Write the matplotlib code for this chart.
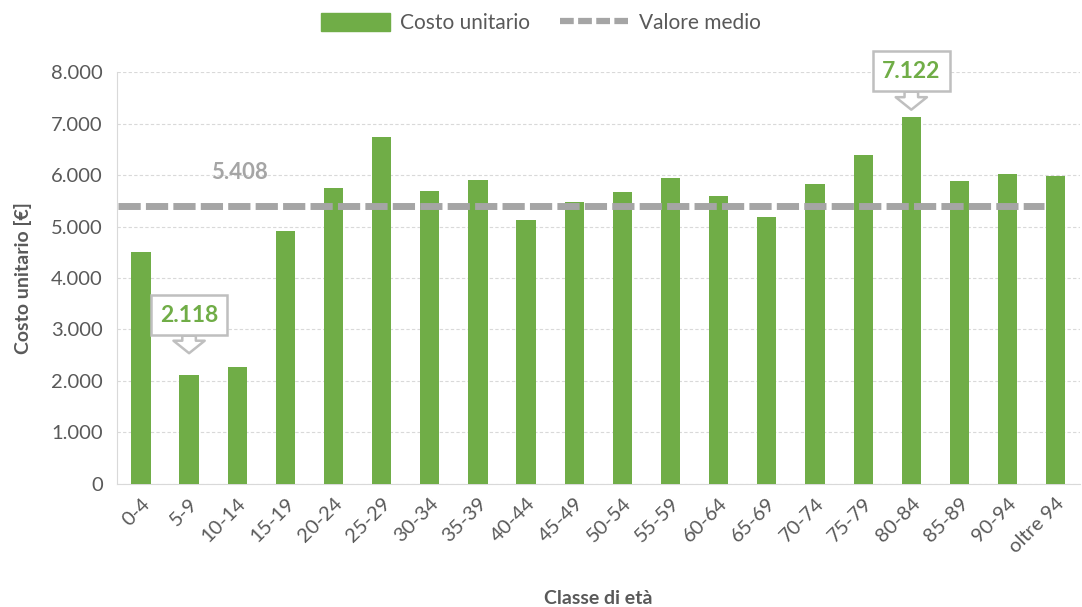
import numpy as np
import matplotlib.pyplot as plt
from matplotlib.ticker import FuncFormatter
from matplotlib.lines import Line2D
from matplotlib.patches import Patch

# data
classes = ["0-4", "5-9", "10-14", "15-19", "20-24", "25-29", "30-34", "35-39",
           "40-44", "45-49", "50-54", "55-59", "60-64", "65-69", "70-74",
           "75-79", "80-84", "85-89", "90-94", "oltre 94"]
costo = [4505, 2118, 2270, 4910, 5740, 6750, 5700, 5900, 5130, 5480,
         5670, 5940, 5590, 5180, 5830, 6400, 7122, 5880, 6020, 5980]
media = 5408

GREEN = "#70AD47"
GREY = "#A5A5A5"
TXT = "#595959"

plt.rcParams["font.family"] = ["Lato", "DejaVu Sans"]

fig = plt.figure(figsize=(10.82, 6.07), dpi=100)
ax = fig.add_axes([0.108, 0.203, 0.89, 0.678])

x = np.arange(len(classes))
ax.bar(x, costo, width=0.4, color=GREEN, zorder=3)
ax.plot([-0.48, len(classes) - 1.25], [media, media], color=GREY, lw=5,
        ls=(0, (3.2, 0.75)), zorder=4)

ax.set_xlim(-0.5, len(classes) - 0.5)
ax.set_ylim(0, 8000)
ax.set_yticks(np.arange(0, 8001, 1000))
ax.yaxis.set_major_formatter(FuncFormatter(lambda v, p: f"{int(v):,}".replace(",", ".")))
ax.set_xticks(x)
ax.set_xticklabels(classes, rotation=45, ha="right", rotation_mode="anchor")
ax.tick_params(axis="both", length=0, labelsize=14.5, colors=TXT)
ax.tick_params(axis="x", pad=8)
ax.tick_params(axis="y", pad=10)
ax.grid(axis="y", color="#D9D9D9", ls=(0, (3, 2)), lw=0.8, zorder=0)
for s in ["top", "right"]:
    ax.spines[s].set_visible(False)
ax.spines["left"].set_color("#D9D9D9")
ax.spines["bottom"].set_color("#D9D9D9")

ax.set_ylabel("Costo unitario [€]", fontsize=14, fontweight="bold", color=TXT, labelpad=14)
ax.set_xlabel("Classe di età", fontsize=14, fontweight="bold", color=TXT, labelpad=24)

# mean label
ax.text(2.05, 6060, f"{media:,}".replace(",", "."), ha="center", va="center",
        fontsize=16, fontweight="bold", color=GREY)

# callouts for min and max (box offset, arrow-tip offset)
callouts = {int(np.argmin(costo)): (1160, 420), int(np.argmax(costo)): (900, 150)}
for i, (box_off, tip_off) in callouts.items():
    v = costo[i]
    ax.annotate(f"{v:,}".replace(",", "."), xy=(i, v + tip_off), xytext=(i, v + box_off),
                ha="center", va="center", fontsize=16.5, fontweight="bold", color=GREEN,
                bbox=dict(boxstyle="square,pad=0.4", fc="white", ec="#BFBFBF", lw=1.8),
                arrowprops=dict(arrowstyle="simple,head_length=0.6,head_width=1.5,tail_width=0.65",
                                mutation_scale=15, fc="white", ec="#BFBFBF", lw=1.8,
                                shrinkA=0, shrinkB=0),
                zorder=6)

handles = [Patch(color=GREEN, label="Costo unitario"),
           Line2D([], [], color=GREY, lw=4.5, ls=(0, (2.2, 0.7)), label="Valore medio")]
fig.legend(handles=handles, loc="upper center", bbox_to_anchor=(0.5, 1.01), ncol=2,
           frameon=False, fontsize=15, labelcolor=TXT, handlelength=3.3,
           columnspacing=1.4, handleheight=1.0, handletextpad=0.5)

fig.savefig("out.png", dpi=100)
